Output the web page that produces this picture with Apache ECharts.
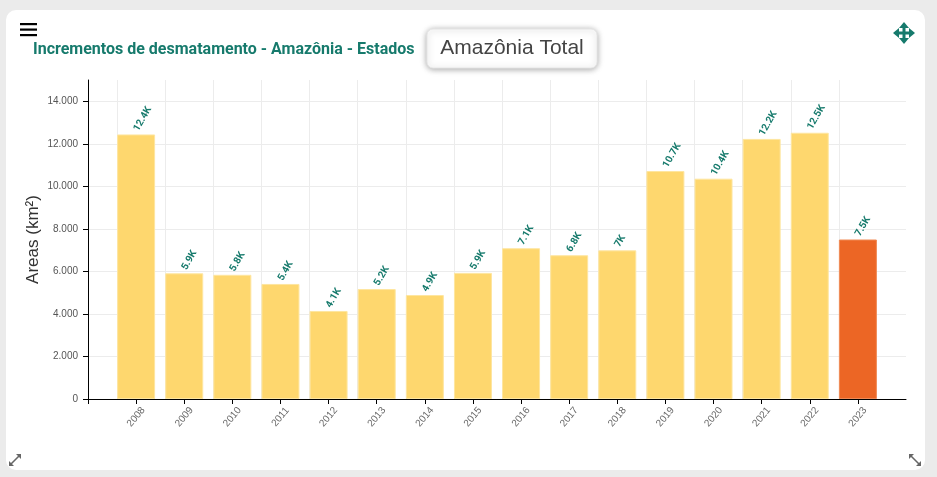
<!DOCTYPE html>
<html><head><meta charset="utf-8">
<script src="https://cdn.jsdelivr.net/npm/echarts@6/dist/echarts.min.js"></script>
<style>
html,body{margin:0;padding:0;background:#ebebeb;width:937px;height:477px;overflow:hidden}
#card{position:absolute;left:6px;top:10px;width:919px;height:460px;background:#fff;border-radius:10px}
#chart{position:absolute;left:0;top:0;width:937px;height:477px}
</style></head><body>
<div id="card"></div><div id="chart"></div>
<script>
const years = ['2008','2009','2010','2011','2012','2013','2014','2015','2016','2017','2018','2019','2020','2021','2022','2023'];
const areas = [12440, 5910, 5840, 5410, 4140, 5170, 4890, 5930, 7090, 6760, 6990, 10720, 10360, 12230, 12520, 7500];
const highlightYear = '2023';
const yMax = 15000;
const yStep = 2000;

const TEAL = '#167a6c';
const fmtK = v => { let s = (v/1000).toFixed(1); if (s.endsWith('.0')) s = s.slice(0,-2); return s + 'K'; };
const fmtThousands = v => String(v).replace(/\B(?=(\d{3})+(?!\d))/g, '.');

const xCats = [''].concat(years, ['']);
const barData = ['-'].concat(areas.map((v,i) => years[i] === highlightYear ? {value: v, itemStyle: {color: '#ec6625', borderColor: '#f08a55'}} : v), ['-']);

const chart = echarts.init(document.getElementById('chart'), null, {renderer: 'canvas'});
chart.setOption({
  animation: false,
  textStyle: {fontFamily: 'Roboto, "Liberation Sans", sans-serif'},
  title: {
    text: 'Incrementos de desmatamento - Amazônia - Estados',
    left: 33, top: 42, padding: 0,
    textStyle: {fontSize: 16, fontWeight: 'bold', color: TEAL, fontFamily: 'Roboto'}
  },
  grid: [
    {left: 88, right: 31, top: 80, bottom: 78, containLabel: false},
    {left: 117, right: 50, top: 80, bottom: 78, containLabel: false}
  ],
  xAxis: [{
    type: 'category', gridIndex: 0, data: xCats, boundaryGap: false,
    axisLine: {show: true, lineStyle: {color: '#000', width: 1}},
    axisTick: {show: true, length: 5, interval: (i) => i < xCats.length - 1, lineStyle: {color: '#000'}},
    axisLabel: {interval: 0, rotate: 50, align: 'center', verticalAlign: 'middle', color: '#666', fontSize: 10, margin: 18, fontFamily: '"Liberation Sans", Arial'},
    splitLine: {show: false}, z: 3
  }, {
    type: 'value', gridIndex: 1, min: 0, max: years.length, interval: 1,
    axisLine: {show: false}, axisTick: {show: false}, axisLabel: {show: false},
    splitLine: {show: true, showMaxLine: false, lineStyle: {color: '#ececec', width: 1}}
  }],
  yAxis: [{
    type: 'value', gridIndex: 0, min: 0, max: yMax, interval: yStep,
    name: 'Areas (km²)', nameLocation: 'middle', nameGap: 46, nameMoveOverlap: false,
    nameTextStyle: {fontSize: 17, color: '#333', fontFamily: '"Liberation Sans", Arial'},
    axisLine: {show: true, lineStyle: {color: '#000', width: 1}},
    axisTick: {show: true, length: 5, lineStyle: {color: '#000'}},
    axisLabel: {color: '#555', fontSize: 10, margin: 10, showMaxLabel: false, formatter: v => fmtThousands(v), fontFamily: '"Liberation Sans", Arial'},
    splitLine: {show: true, showMaxLine: false, lineStyle: {color: '#ececec'}}, z: 3
  }, {
    type: 'value', gridIndex: 1, min: 0, max: yMax, show: false, splitLine: {show: false}
  }],
  series: [{
    type: 'bar', xAxisIndex: 0, yAxisIndex: 0, data: barData, barWidth: 38, z: 4,
    itemStyle: {color: '#fed76e', borderColor: '#fee6a0', borderWidth: 1},
    label: {
      show: true, position: 'top', rotate: 60, align: 'left', verticalAlign: 'middle', distance: 4,
      formatter: p => fmtK(p.value), color: TEAL, fontWeight: 'bold', fontSize: 10, fontFamily: 'Roboto'
    }
  }],
  graphic: [
    {type: 'rect', shape: {x: 427, y: 29, width: 170, height: 39, r: 6},
     style: {fill: '#fff', shadowBlur: 6, shadowColor: 'rgba(0,0,0,0.35)', shadowOffsetY: 1, stroke: '#e6e6e6', lineWidth: 1}, z: 10},
    {type: 'text', x: 512, y: 48.5, z: 11,
     style: {text: 'Amazônia Total', fontSize: 21, fill: '#444', align: 'center', verticalAlign: 'middle', fontFamily: '"Liberation Sans", Arial'}},
    {type: 'rect', shape: {x: 20, y: 23, width: 17, height: 2.2}, style: {fill: '#000'}},
    {type: 'rect', shape: {x: 20, y: 28.5, width: 17, height: 2.2}, style: {fill: '#000'}},
    {type: 'rect', shape: {x: 20, y: 34, width: 17, height: 2.2}, style: {fill: '#000'}},
    {type: 'group', x: 904, y: 33, children: [
      {type: 'polygon', shape: {points: [[0,-11],[-5,-5],[5,-5]]}, style: {fill: TEAL}},
      {type: 'polygon', shape: {points: [[0,11],[-5,5],[5,5]]}, style: {fill: TEAL}},
      {type: 'polygon', shape: {points: [[-11,0],[-5,-5],[-5,5]]}, style: {fill: TEAL}},
      {type: 'polygon', shape: {points: [[11,0],[5,-5],[5,5]]}, style: {fill: TEAL}},
      {type: 'rect', shape: {x: -1.5, y: -6, width: 3, height: 12}, style: {fill: TEAL}},
      {type: 'rect', shape: {x: -6, y: -1.5, width: 12, height: 3}, style: {fill: TEAL}}
    ]},
    {type: 'group', x: 15, y: 460, children: [
      {type: 'line', shape: {x1: -4, y1: 4, x2: 4, y2: -4}, style: {stroke: '#666', lineWidth: 1.6}},
      {type: 'polygon', shape: {points: [[-6,6],[-6,1],[-1,6]]}, style: {fill: '#666'}},
      {type: 'polygon', shape: {points: [[6,-6],[1,-6],[6,-1]]}, style: {fill: '#666'}}
    ]},
    {type: 'group', x: 915, y: 460, children: [
      {type: 'line', shape: {x1: -4, y1: -4, x2: 4, y2: 4}, style: {stroke: '#666', lineWidth: 1.6}},
      {type: 'polygon', shape: {points: [[-6,-6],[-1,-6],[-6,-1]]}, style: {fill: '#666'}},
      {type: 'polygon', shape: {points: [[6,6],[1,6],[6,1]]}, style: {fill: '#666'}}
    ]}
  ]
});
</script>
</body></html>
